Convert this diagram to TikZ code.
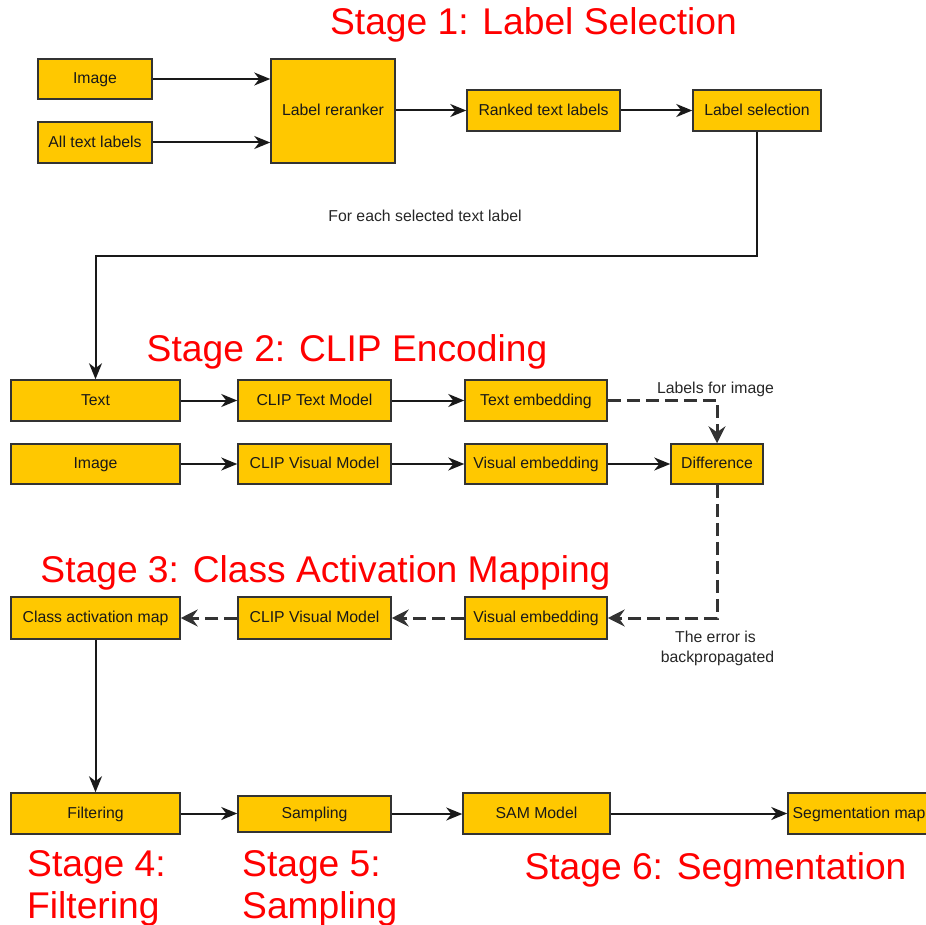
\documentclass[tikz,border=0pt]{standalone}
\usepackage{fontspec}
\setmainfont{Liberation Sans}
\usetikzlibrary{arrows.meta,positioning}
\definecolor{boxfill}{HTML}{FFC800}
\definecolor{boxline}{HTML}{333333}
\definecolor{stagered}{HTML}{FF0000}
\begin{document}
\begin{tikzpicture}[x=1pt,y=-1pt,
  box/.style={draw=boxline, fill=boxfill, line width=1.5pt, inner sep=0pt,
    font=\fontsize{15.8}{18}\selectfont, text=black!90, text height=11.3pt, text depth=1.5pt},
  arr/.style={draw=black!90, line width=2pt, -{Stealth[length=16pt,width=13pt,inset=5pt]}},
  dasharr/.style={draw=black!80, line width=3pt, dash pattern=on 13pt off 6pt,
    -{Stealth[length=17pt,width=17pt,inset=6pt]}},
  stagetxt/.style={text=stagered, font=\fontsize{37.2}{42.5}\selectfont, inner sep=0pt},
  note/.style={font=\fontsize{15.8}{20}\selectfont, text=black!85, inner sep=0pt, anchor=base}
]
\useasboundingbox (0,0) rectangle (926,925);
\clip (0,0) rectangle (926,925);

% Stage titles
\node[stagetxt, anchor=base] (s1) at (533.5,35) {Stage 1: Label Selection};
\node[stagetxt, anchor=base] (s2) at (347,361) {Stage 2: CLIP Encoding};
\node[stagetxt, anchor=base] (s3) at (325.5,582) {Stage 3: Class Activation Mapping};
\node[stagetxt, anchor=base west] (s4a) at (27,876) {Stage 4:};
\node[stagetxt, anchor=base west] (s4b) at (27,918) {Filtering};
\node[stagetxt, anchor=base west] (s5a) at (242,876) {Stage 5:};
\node[stagetxt, anchor=base west] (s5b) at (242,918) {Sampling};
\node[stagetxt, anchor=base] (s6) at (715.5,879) {Stage 6: Segmentation};

% Stage 1
\node[box, minimum width=114pt, minimum height=40pt] (img1) at (95,79) {Image};
\node[box, minimum width=114pt, minimum height=41pt] (all) at (95,142.5) {All text labels};
\node[box, minimum width=124pt, minimum height=104pt] (rer) at (333,111) {Label reranker};
\node[box, minimum width=153pt, minimum height=41pt] (ranked) at (543.5,110.5) {Ranked text labels};
\node[box, minimum width=128pt, minimum height=41pt] (sel) at (757,110.5) {Label selection};

\draw[arr] (img1.east) -- (img1.east -| rer.west);
\draw[arr] (all.east) -- (all.east -| rer.west);
\draw[arr] (rer.east |- ranked.west) -- (ranked.west);
\draw[arr] (ranked.east) -- (sel.west);

\node[note] (foreach) at (425,222) {For each selected text label};

% Stage 2
\node[box, minimum width=169pt, minimum height=41pt] (text) at (95.5,400.5) {Text};
\node[box, minimum width=153pt, minimum height=41pt] (ctm) at (314.5,400.5) {CLIP Text Model};
\node[box, minimum width=142pt, minimum height=41pt] (temb) at (536,400.5) {Text embedding};
\node[box, minimum width=169pt, minimum height=40pt] (img2) at (95.5,464) {Image};
\node[box, minimum width=153pt, minimum height=40pt] (cvm) at (314.5,464) {CLIP Visual Model};
\node[box, minimum width=142pt, minimum height=40pt] (vemb) at (536,464) {Visual embedding};
\node[box, minimum width=92pt, minimum height=40pt] (diff) at (717,464) {Difference};

\coordinate (turn1) at (757,256);
\draw[arr] (sel.south) -- (turn1) -| (text.north);

\draw[arr] (text.east) -- (ctm.west);
\draw[arr] (ctm.east) -- (temb.west);
\draw[arr] (img2.east) -- (cvm.west);
\draw[arr] (cvm.east) -- (vemb.west);
\draw[arr] (vemb.east) -- (diff.west);
\draw[dasharr] (temb.east) -| (diff.north);
\node[note] (lblimg) at (715.5,393) {Labels for image};

% Stage 3
\node[box, minimum width=169pt, minimum height=42pt] (cam) at (95.5,618) {Class activation map};
\node[box, minimum width=153pt, minimum height=42pt] (cvm2) at (314.5,618) {CLIP Visual Model};
\node[box, minimum width=142pt, minimum height=42pt] (vemb2) at (536,618) {Visual embedding};

\draw[dasharr] (diff.south) |- (vemb2.east);
\draw[dasharr] (vemb2.west) -- (cvm2.east);
\draw[dasharr] (cvm2.west) -- (cam.east);
\node[note] (err1) at (715.5,642) {The error is};
\node[note] (err2) at (717.5,662) {backpropagated};

% Stages 4-6
\node[box, minimum width=169pt, minimum height=41pt] (filt) at (95.5,813.5) {Filtering};
\node[box, minimum width=153pt, minimum height=36pt] (samp) at (314.5,814) {Sampling};
\node[box, minimum width=147pt, minimum height=41pt] (sam) at (536.5,813.5) {SAM Model};
\node[box, minimum width=142pt, minimum height=41pt] (seg) at (859,813.5) {Segmentation map};

\draw[arr] (cam.south) -- (filt.north);
\draw[arr] (filt.east) -- (filt.east -| samp.west);
\draw[arr] (samp.east) -- (samp.east -| sam.west);
\draw[arr] (sam.east) -- (seg.west);
\end{tikzpicture}
\end{document}
